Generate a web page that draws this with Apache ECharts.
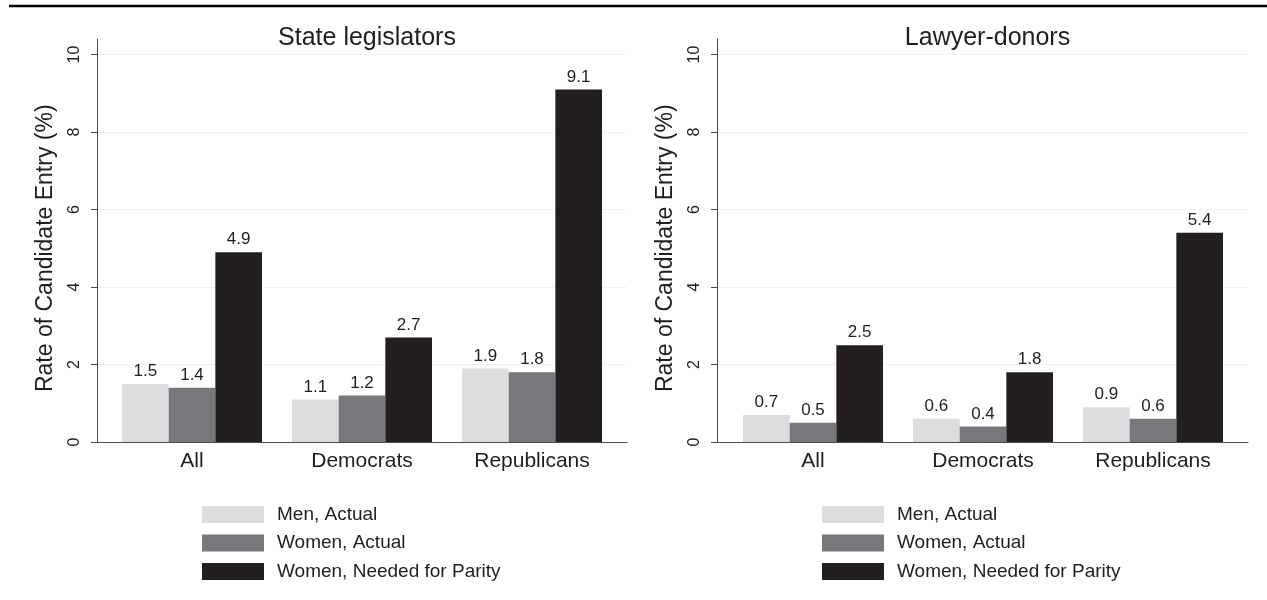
<!DOCTYPE html>
<html>
<head>
<meta charset="utf-8">
<script src="https://cdn.jsdelivr.net/npm/echarts@6/dist/echarts.min.js"></script>
<style>
html,body{margin:0;padding:0;background:#fff;}
#chart{width:1267px;height:600px;}
</style>
</head>
<body>
<div id="chart"></div>
<script>
const categories = ['All', 'Democrats', 'Republicans'];
const seriesNames = ['Men, Actual', 'Women, Actual', 'Women, Needed for Parity'];
const panelTitles = ['State legislators', 'Lawyer-donors'];
const legislatorsMen = [1.5, 1.1, 1.9];
const legislatorsWomen = [1.4, 1.2, 1.8];
const legislatorsParity = [4.9, 2.7, 9.1];
const donorsMen = [0.7, 0.6, 0.9];
const donorsWomen = [0.5, 0.4, 0.6];
const donorsParity = [2.5, 1.8, 5.4];
const yTickValues = [0, 2, 4, 6, 8, 10];
const yAxisTitle = 'Rate of Candidate Entry (%)';

const colors = ['#dcdddf', '#77787b', '#231f20'];
const FONT = 'Liberation Sans, Arial, Helvetica, sans-serif';
const TXT = '#1e1e1e';
const AX = '#4a4a4a';

const panels = [
  {axisLeft: 97, axisWidth: 530, barLeft: 107, barWidth: 510, data: [legislatorsMen, legislatorsWomen, legislatorsParity]},
  {axisLeft: 717, axisWidth: 531, barLeft: 728, barWidth: 510, data: [donorsMen, donorsWomen, donorsParity]}
];
const PX_PER_UNIT = 38.75;
const baseY = 442;

const grid = [], xAxis = [], yAxis = [], series = [], title = [], legend = [];
panels.forEach((p, i) => {
  const gAxis = i * 2, gBar = i * 2 + 1;
  grid.push({left: p.axisLeft, width: p.axisWidth, top: baseY - 10 * PX_PER_UNIT, height: 10 * PX_PER_UNIT});
  grid.push({left: p.barLeft, width: p.barWidth, top: baseY - 10.4 * PX_PER_UNIT, height: 10.4 * PX_PER_UNIT});
  xAxis.push({gridIndex: gAxis, type: 'category', data: categories, boundaryGap: true,
    axisLine: {show: true, lineStyle: {color: AX, width: 1}}, axisTick: {show: false}, axisLabel: {show: false}, splitLine: {show: false}});
  yAxis.push({gridIndex: gAxis, type: 'value', min: yTickValues[0], max: yTickValues[yTickValues.length - 1], interval: 2,
    axisLine: {show: false}, axisTick: {show: true, length: 6, lineStyle: {color: AX}},
    axisLabel: {show: true, rotate: 90, margin: 14, fontSize: 16, fontFamily: FONT, color: TXT},
    splitLine: {show: true, lineStyle: {color: '#f1f1f1', width: 1}},
    name: yAxisTitle, nameLocation: 'middle', nameRotate: 90, nameGap: 40,
    nameTextStyle: {fontSize: 23, fontFamily: FONT, color: TXT}});
  xAxis.push({gridIndex: gBar, type: 'category', data: categories, boundaryGap: true,
    axisLine: {show: false}, axisTick: {show: false},
    axisLabel: {show: true, margin: 9, fontSize: 21, fontFamily: FONT, color: TXT}, splitLine: {show: false}});
  yAxis.push({gridIndex: gBar, type: 'value', min: 0, max: 10.4, offset: p.barLeft - p.axisLeft,
    axisLine: {show: true, lineStyle: {color: AX, width: 1}}, axisTick: {show: false}, axisLabel: {show: false}, splitLine: {show: false}});
  p.data.forEach((vals, k) => {
    series.push({
      name: seriesNames[k], type: 'bar', xAxisIndex: gBar, yAxisIndex: gBar,
      data: vals, barWidth: 46.67, barGap: '0%',
      itemStyle: {color: colors[k]},
      label: {show: true, position: 'top', distance: 4, fontSize: 17, fontFamily: FONT, color: TXT,
        formatter: (d) => d.value.toFixed(1)},
      emphasis: {disabled: true}, animation: false
    });
  });
  title.push({text: panelTitles[i], left: p.axisLeft + p.axisWidth / 2, textAlign: 'center', top: 21,
    textStyle: {fontSize: 25, fontWeight: 'normal', fontFamily: FONT, color: TXT}});
  legend.push({orient: 'vertical', left: p.axisLeft + 105, top: 505, padding: 0, data: seriesNames,
    itemWidth: 62, itemHeight: 17, itemGap: 9.5, icon: 'rect', selectedMode: false,
    textStyle: {fontSize: 19, fontFamily: FONT, color: TXT, lineHeight: 17, padding: [0, 0, 0, 8]}});
});

const chart = echarts.init(document.getElementById('chart'), null, {renderer: 'canvas'});
chart.setOption({
  backgroundColor: '#fff',
  animation: false,
  title, legend, grid, xAxis, yAxis, series,
  graphic: [{type: 'line', shape: {x1: 9, y1: 6, x2: 1267, y2: 6}, style: {stroke: '#000', lineWidth: 2.5}, silent: true}]
});
</script>
</body>
</html>
